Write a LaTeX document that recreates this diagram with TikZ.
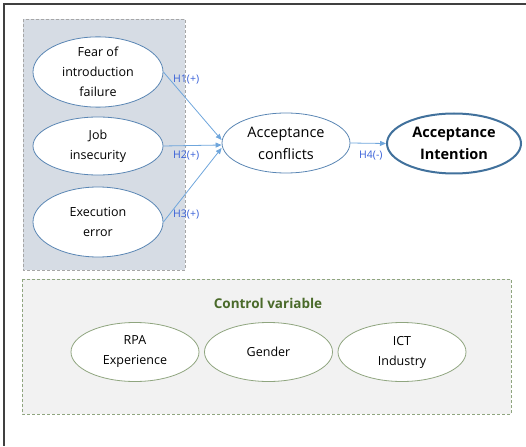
\documentclass[tikz,border=0pt]{standalone}
\usepackage{fontspec}
\setmainfont{Open Sans}
\usetikzlibrary{shapes.geometric,arrows.meta}
\definecolor{leftbg}{HTML}{D6DCE4}
\definecolor{ctrlbg}{HTML}{F2F2F2}
\definecolor{ctrlborder}{HTML}{8FA57F}
\definecolor{ovalblue}{HTML}{5A86B4}
\definecolor{darkblue}{HTML}{41719C}
\definecolor{arrowblue}{HTML}{6FA6DC}
\definecolor{lblblue}{HTML}{3860D8}
\definecolor{ctrlgreen}{HTML}{4A6A2A}
\tikzset{
  oval/.style={ellipse, draw=ovalblue, fill=white, line width=0.8pt, inner sep=0pt, align=center, font=\fontsize{12.5}{20}\selectfont},
  ctrloval/.style={ellipse, draw=ctrlborder, fill=white, line width=0.8pt, inner sep=0pt, minimum width=128pt, minimum height=59pt, align=center, font=\fontsize{12.5}{20}\selectfont},
  link/.style={draw=arrowblue, line width=0.8pt, -{Triangle[length=6pt,width=5pt]}},
  hlabel/.style={text=lblblue, font=\fontsize{10.5}{12}\selectfont, inner sep=1pt},
  framebar/.style={fill=black!75}
}
\begin{document}
\begin{tikzpicture}[x=1pt,y=-1pt]
\useasboundingbox (0,0) rectangle (526,446);
% outer frame (top and left edges only)
\fill[framebar] (3,3) rectangle (526,5);
\fill[framebar] (3,3) rectangle (5,446);
% left group box
\draw[fill=leftbg, draw=gray!70, densely dashed, line width=0.5pt] (23,19) rectangle (185,270);
% control box
\draw[fill=ctrlbg, draw=ctrlborder, densely dashed, line width=0.6pt] (22,279) rectangle (511,414);
% left ovals
\node[oval, minimum width=130pt, minimum height=70pt] (fear) at (98,72) {Fear of\\introduction\\failure};
\node[oval, minimum width=130pt, minimum height=58pt] (job) at (98,146) {Job\\insecurity};
\node[oval, minimum width=130pt, minimum height=70pt] (exec) at (98,222) {Execution\\error};
% middle
\node[oval, minimum width=128pt, minimum height=60pt, font=\fontsize{14.5}{22}\selectfont] (conf) at (286,143) {Acceptance\\conflicts};
\node[oval, draw=darkblue, line width=2pt, minimum width=134pt, minimum height=60pt, font=\bfseries\fontsize{14.5}{22}\selectfont] (int) at (454,143.5) {Acceptance\\Intention};
% arrows
\draw[link] (fear.east) -- (conf.west |- 0,140);
\draw[link] (job.east) -- (conf.west |- 0,145);
\draw[link] (exec.east) -- (conf.west |- 0,148);
\draw[link] (conf.east) -- (int.west);
% labels
\node[hlabel, anchor=west] (h1) at (172,80) {H1(+)};
\node[hlabel, anchor=west] (h2) at (172,156) {H2(+)};
\node[hlabel, anchor=west] (h3) at (172,215) {H3(+)};
\node[hlabel, anchor=west] (h4) at (358,156) {H4(-)};
% control variables
\node[text=ctrlgreen, font=\bfseries\fontsize{13.5}{16}\selectfont] (ctitle) at (268,303) {Control variable};
\node[ctrloval] (rpa) at (135,352) {RPA\\Experience};
\node[ctrloval] (gender) at (268.5,352) {Gender};
\node[ctrloval] (ict) at (402,352) {ICT\\Industry};
\end{tikzpicture}
\end{document}
